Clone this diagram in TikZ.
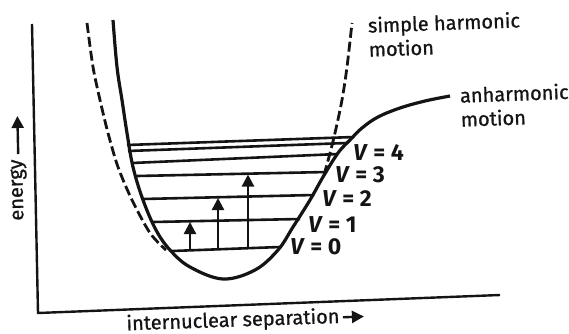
\documentclass[tikz,border=0pt]{standalone}
\usepackage{fontspec}
\setmainfont{Fira Sans}
\newfontfamily\labfont{Fira Sans}[FakeBold=0.9]
\usetikzlibrary{arrows.meta}
\definecolor{ink}{RGB}{20,20,20}
\tikzset{
  axis/.style={draw=ink, line width=1.2pt},
  morse/.style={draw=ink, line width=1.6pt, line join=round},
  harm/.style={draw=ink, line width=1.4pt, dash pattern=on 5pt off 2pt},
  level/.style={draw=ink, line width=1.3pt},
  jump/.style={-{Triangle[length=6pt,width=6pt]}, draw=ink, line width=1.2pt},
  lab/.style={font=\labfont\fontsize{10}{12}\selectfont, text=ink, inner sep=0pt, align=left},
  vlab/.style={font=\fontsize{11.5}{12}\selectfont\bfseries, text=ink, inner sep=0pt, anchor=west},
}
\begin{document}
\begin{tikzpicture}[x=0.5pt, y=-0.5pt]
  \useasboundingbox (0,0) rectangle (569,333);
  % axes
  \coordinate (ytop) at (32,24);
  \coordinate (orig) at (38,313);
  \coordinate (xend) at (500,295);
  \draw[axis] (ytop) -- (orig) -- (xend);
  \node[lab, rotate=91.5] (en) at (19,190) {energy};
  \draw[jump] ([yshift=2.5pt]en.east) -- ++(-0.8,-38);
  \node[lab, rotate=2] (sep) at (233,321) {internuclear separation};
  \draw[jump] ([xshift=1.5pt]sep.east) -- ++(21,-0.8);
  % harmonic (dashed) branches
  \draw[harm] plot[smooth] coordinates {(87,23) (93,67) (100,100) (108,133) (118,167) (132,200) (150,233) (166,250)};
  \draw[harm] plot[smooth] coordinates {(324,175) (329,157) (335,133) (342,100) (347,67) (352,23)};
  % vibrational levels
  \foreach \xa/\ya/\xb/\yb in {127/145/354/137, 128/151/347/143, 132/163/338/154,
      137/176/327/172, 143/199/314/195, 153/222/300/219, 172/251/280/247}
    \draw[level] (\xa,\ya) -- (\xb,\yb);
  % anharmonic (Morse) curve
  \draw[morse] plot[smooth, tension=0.6] coordinates {(113,20) (117,67) (122,100) (127,133)
      (133,167) (143,200) (156,230) (170,250) (190,267) (223,279) (255,270) (278,250)
      (293,227) (310,200) (323,177) (338,153) (350,140) (362,128) (378,117) (400,108)
      (425,101) (450,96)};
  % transitions
  \draw[jump] (190,250.3) -- (190,222);
  \draw[jump] (218,249.3) -- (218,198);
  \draw[jump] (248,248.2) -- (248,174.5);
  \foreach \x/\y/\n in {290/247/0, 308/225/1, 322/199/2, 335/175/3, 353/153/4}
    \node[vlab] (v\n) at (\x,\y) {\textit{V} = \n};
  \node[lab, anchor=west, rotate=2] (shm) at (368,37) {simple harmonic\\motion};
  \node[lab, anchor=west, rotate=2] (anh) at (460,107) {anharmonic\\motion};
\end{tikzpicture}
\end{document}
